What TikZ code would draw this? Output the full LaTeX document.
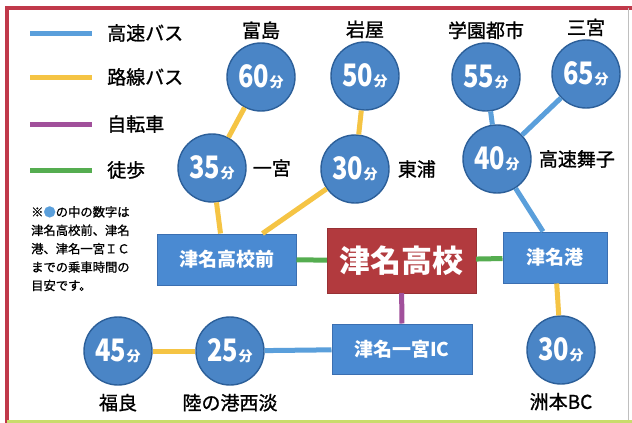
\documentclass[tikz,border=0pt]{standalone}
\usepackage{fontspec}
\usepackage{graphicx}
\setmainfont{Noto Sans CJK JP}
\newfontfamily\medfont{Noto Sans CJK JP}[FakeBold=1.1]
\usetikzlibrary{positioning}

\definecolor{kousoku}{HTML}{5A9FDB}
\definecolor{rosen}{HTML}{F5C444}
\definecolor{jitensha}{HTML}{A1509B}
\definecolor{toho}{HTML}{55AD50}
\definecolor{circfill}{HTML}{4A85C6}
\definecolor{circline}{HTML}{2C5F99}
\definecolor{boxfill}{HTML}{4A8AD2}
\definecolor{boxline}{HTML}{3B6FB1}
\definecolor{schoolred}{HTML}{B23A3E}
\definecolor{framered}{HTML}{C0394A}
\definecolor{framegreen}{HTML}{C9DC6C}

\newcommand{\minutes}[1]{\scalebox{0.82}[1]{\fontsize{31}{31}\selectfont\bfseries #1}\hspace{0.5pt}{\fontsize{14}{14}\selectfont\bfseries 分}}

\tikzset{
	stop/.style={circle, fill=circfill, draw=circline, line width=1.4pt,
		minimum size=68pt, inner sep=0pt, text=white},
	station/.style={rectangle, fill=boxfill, draw=boxline, line width=1pt,
		inner sep=0pt, text=white, font=\fontsize{19}{19}\selectfont\bfseries},
	place/.style={inner sep=0pt, font=\fontsize{19}{19}\selectfont\medfont},
	route/.style={line width=5pt},
}

\begin{document}
\begin{tikzpicture}[x=1pt, y=-1pt]
		\useasboundingbox (0,0) rectangle (632,423);
		
		% frame
		\fill[white] (0,0) rectangle (632,423);
		\draw[framered, line width=4pt] (7,423) -- (7,8) -- (632,8);
		\draw[framegreen, line width=3pt] (7,421.5) -- (632,421.5);
		\draw[black!25, line width=0.6pt] (628,8) -- (628,420);
		
		% legend
		\draw[kousoku, route] (30,33) -- (92,33);
		\draw[rosen, route] (30,77) -- (92,77);
		\draw[jitensha, route] (30,124) -- (92,124);
		\draw[toho, route] (30,170) -- (92,170);
		\node[place, anchor=west] (lk) at (107,33) {高速バス};
		\node[place, anchor=west] (lr) at (107,77) {路線バス};
		\node[place, anchor=west] (lj) at (107,124) {自転車};
		\node[place, anchor=west] (lt) at (107,170) {徒歩};
		\node[anchor=north west, inner sep=0pt, align=left,
			font=\fontsize{12.3}{18.4}\selectfont\medfont] (note) at (31,206)
			{※\textcolor{kousoku}{●}の中の数字は\\津名高校前、津名\\港、津名一宮ＩＣ\\までの乗車時間の\\目安です。};
		
		% stations
		\node[fill=schoolred, draw=schoolred!85!black, inner sep=0pt,
			minimum width=149pt, minimum height=65pt, text=white,
			font=\fontsize{31}{31}\selectfont\bfseries] (school) at (401.5,260.5) {津名高校};
		\node[station, minimum width=139pt, minimum height=51pt] (mae) at (226.5,259.5) {津名高校前};
		\node[station, minimum width=104pt, minimum height=51pt] (minato) at (555,257.5) {津名港};
		\node[station, minimum width=140pt, minimum height=50pt] (ic) at (402,349) {津名一宮IC};
		
		% stops
		\node[stop] (tomi) at (261,77) {\minutes{60}};
		\node[stop] (ichi) at (212,168) {\minutes{35}};
		\node[stop] (iwaya) at (365,76) {\minutes{50}};
		\node[stop] (higa) at (355,169) {\minutes{30}};
		\node[stop] (gakuen) at (486,77) {\minutes{55}};
		\node[stop] (sannomiya) at (586,74) {\minutes{65}};
		\node[stop] (maiko) at (497,159) {\minutes{40}};
		\node[stop] (fukura) at (118,351) {\minutes{45}};
		\node[stop] (seidan) at (230,351) {\minutes{25}};
		\node[stop] (sumoto) at (561,350) {\minutes{30}};
		
		% stop names
		\node[place, above=3pt of tomi] {富島};
		\node[place, above=3pt of iwaya] {岩屋};
		\node[place, above=3pt of gakuen] {学園都市};
		\node[place, above=3pt of sannomiya] {三宮};
		\node[place, right=6pt of ichi] {一宮};
		\node[place, right=8pt of higa] {東浦};
		\node[place, right=7pt of maiko] {高速舞子};
		\node[place, below=8pt of fukura] {福良};
		\node[place, below=8pt of seidan] {陸の港西淡};
		\node[place, below=8pt of sumoto] {洲本BC};
		
		% routes
		\draw[rosen, route] (tomi) -- (ichi);
		\draw[rosen, route] (ichi) -- ([xshift=-6pt]mae.north);
		\draw[rosen, route] (iwaya) -- (higa);
		\draw[rosen, route] (higa) -- ([xshift=36pt]mae.north);
		\draw[toho, route] (mae) -- (school);
		\draw[toho, route] (school) -- (minato);
		\draw[jitensha, route] (school) -- (ic);
		\draw[kousoku, route] (gakuen) -- (maiko);
		\draw[kousoku, route] (sannomiya) -- (maiko);
		\draw[kousoku, route] (maiko) -- ([xshift=-12pt]minato.north);
		\draw[rosen, route] (minato) -- (sumoto);
		\draw[kousoku, route] (ic) -- (seidan);
		\draw[rosen, route] (seidan) -- (fukura);
\end{tikzpicture}
\end{document}
